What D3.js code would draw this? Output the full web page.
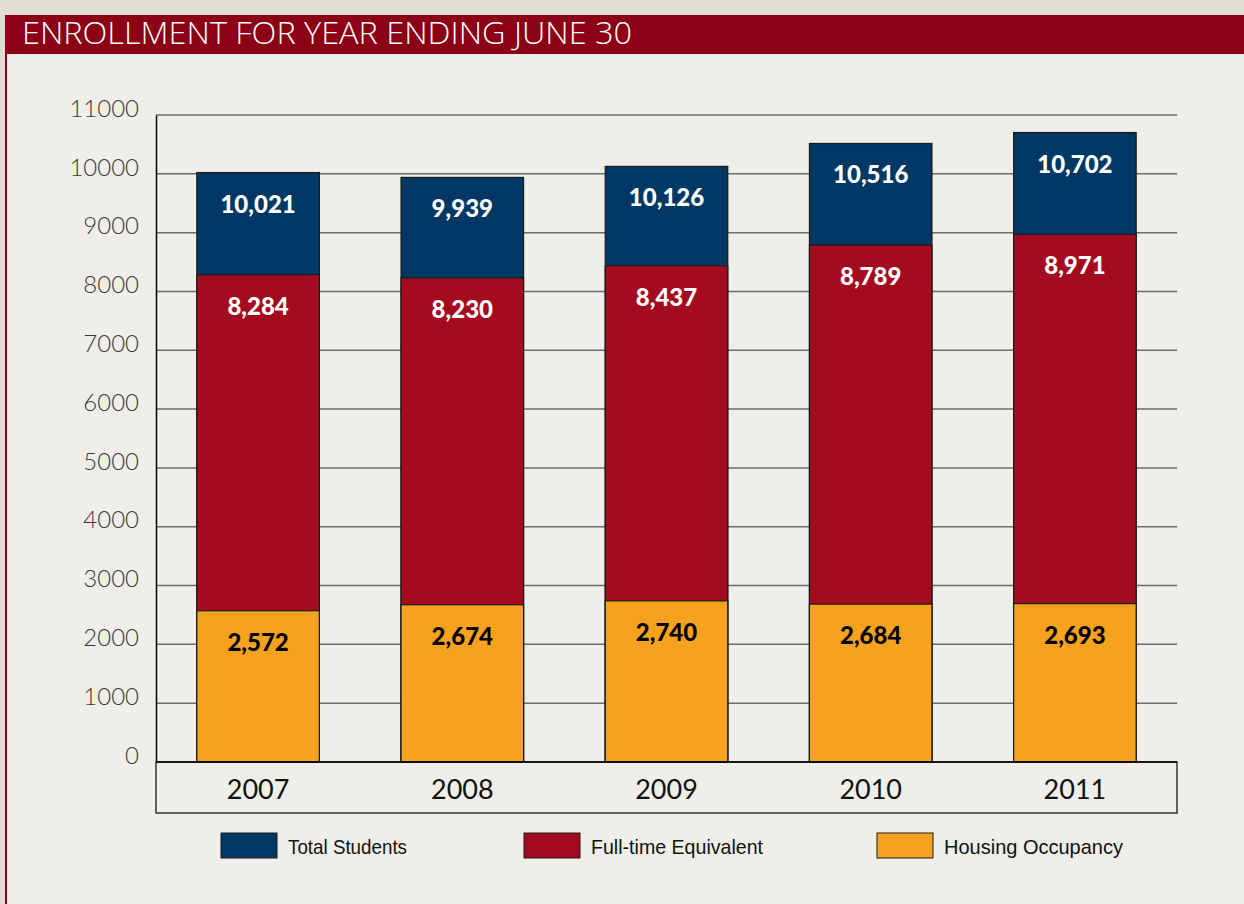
<!DOCTYPE html>
<html>
<head>
<meta charset="utf-8">
<script src="https://cdn.jsdelivr.net/npm/d3@7"></script>
<style>
body { margin: 0; background: #dfddd5; }
</style>
</head>
<body>
<script>
var wd = 1244
var ht = 904

var years = ["2007", "2008", "2009", "2010", "2011"]
var totalStudents = [10021, 9939, 10126, 10516, 10702]
var fullTime = [8284, 8230, 8437, 8789, 8971]
var housing = [2572, 2674, 2740, 2684, 2693]
var yTicks = [0, 1000, 2000, 3000, 4000, 5000, 6000, 7000, 8000, 9000, 10000, 11000]
var seriesNames = ["Total Students", "Full-time Equivalent", "Housing Occupancy"]
var seriesCols = ["#003865", "#a50b1e", "#f7a21e"]
var labelCols = ["#ffffff", "#ffffff", "#000000"]

var svgCont = d3.select("body").append("svg")
.attr("width", wd)
.attr("height", ht)

// panel background + red frame
svgCont.append("rect")
.attr("x", 5).attr("y", 15).attr("width", wd - 5).attr("height", ht - 15)
.attr("fill", "#efeee8")
svgCont.append("rect")
.attr("x", 5).attr("y", 15).attr("width", 2).attr("height", ht - 15)
.attr("fill", "#8b0014")
svgCont.append("rect")
.attr("x", 5).attr("y", 15).attr("width", wd - 5).attr("height", 39)
.attr("fill", "#8b0014")
svgCont.append("text")
.attr("x", 22).attr("y", 44)
.attr("fill", "#ffffff")
.attr("font-family", "'Open Sans', sans-serif")
.attr("font-weight", 300)
.attr("font-size", 31)
.attr("textLength", 610)
.attr("lengthAdjust", "spacingAndGlyphs")
.text("ENROLLMENT FOR YEAR ENDING JUNE 30")

var pLeft = 156, pRight = 1177, pTop = 115, pBottom = 762

var x = d3.scaleBand().domain(years).range([pLeft, pRight]).paddingInner(0.4).paddingOuter(0.2)
var y = d3.scaleLinear().domain([0, 11000]).range([pBottom, pTop])

// gridlines
svgCont.append("g")
.selectAll("line")
.data(yTicks.slice(1))
.enter().append("line")
.attr("x1", pLeft).attr("x2", pRight)
.attr("y1", function(d) { return y(d) }).attr("y2", function(d) { return y(d) })
.attr("stroke", "#6e6e68")
.attr("stroke-width", 1.5)

var yAxis = svgCont.append("g")
.attr("transform", "translate(" + pLeft + ",0)")
.call(d3.axisLeft(y).tickValues(yTicks).tickSize(0).tickPadding(17).tickFormat(d3.format("d")))
yAxis.select(".domain").attr("stroke", "#000").attr("stroke-width", 1.5)
yAxis.selectAll("text")
.attr("font-family", "Lato, sans-serif")
.attr("font-weight", 300)
.attr("font-size", 24)
.attr("fill", "#3a3a3a")
.attr("dy", "0.05em")

// bars: each series drawn from zero, overlapping
var series = [totalStudents, fullTime, housing]
series.forEach(function(vals, s) {
  var g = svgCont.append("g")
  g.selectAll("rect")
  .data(vals)
  .enter().append("rect")
  .attr("x", function(d, i) { return x(years[i]) })
  .attr("y", function(d) { return y(d) })
  .attr("width", x.bandwidth())
  .attr("height", function(d) { return y(0) - y(d) })
  .attr("fill", seriesCols[s])
  .attr("stroke", "#1a1a1a")
  .attr("stroke-width", 1.2)

  g.selectAll("text")
  .data(vals)
  .enter().append("text")
  .attr("x", function(d, i) { return x(years[i]) + x.bandwidth() / 2 })
  .attr("y", function(d) { return y(d) + 40 })
  .attr("text-anchor", "middle")
  .attr("fill", labelCols[s])
  .attr("font-family", "Lato, sans-serif")
  .attr("font-weight", 900)
  .attr("font-size", 24)
  .text(function(d) { return d3.format(",")(d) })
})

// x axis box
svgCont.append("rect")
.attr("x", pLeft).attr("y", pBottom).attr("width", pRight - pLeft).attr("height", 51)
.attr("fill", "none")
.attr("stroke", "#333")
.attr("stroke-width", 1.5)
svgCont.append("line")
.attr("x1", pLeft).attr("x2", pRight).attr("y1", pBottom).attr("y2", pBottom)
.attr("stroke", "#000").attr("stroke-width", 1.5)

svgCont.append("g")
.selectAll("text")
.data(years)
.enter().append("text")
.attr("x", function(d) { return x(d) + x.bandwidth() / 2 })
.attr("y", 799)
.attr("text-anchor", "middle")
.attr("font-family", "Lato, sans-serif")
.attr("font-size", 27)
.attr("fill", "#111")
.text(function(d) { return d })

// legend
var legX = [221, 524, 877]
var legW = [119, 172, 179]
var leg = svgCont.append("g")
.selectAll("g")
.data(seriesNames)
.enter().append("g")
.attr("transform", function(d, i) { return "translate(" + legX[i] + ",833)" })
leg.append("rect")
.attr("width", 56).attr("height", 25)
.attr("fill", function(d, i) { return seriesCols[i] })
.attr("stroke", "#1a1a1a").attr("stroke-width", 1)
leg.append("text")
.attr("x", 67).attr("y", 21)
.attr("font-family", "'Liberation Sans', sans-serif")
.attr("font-size", 21)
.attr("textLength", function(d, i) { return legW[i] })
.attr("lengthAdjust", "spacingAndGlyphs")
.attr("fill", "#111")
.text(function(d) { return d })
</script>
</body>
</html>
